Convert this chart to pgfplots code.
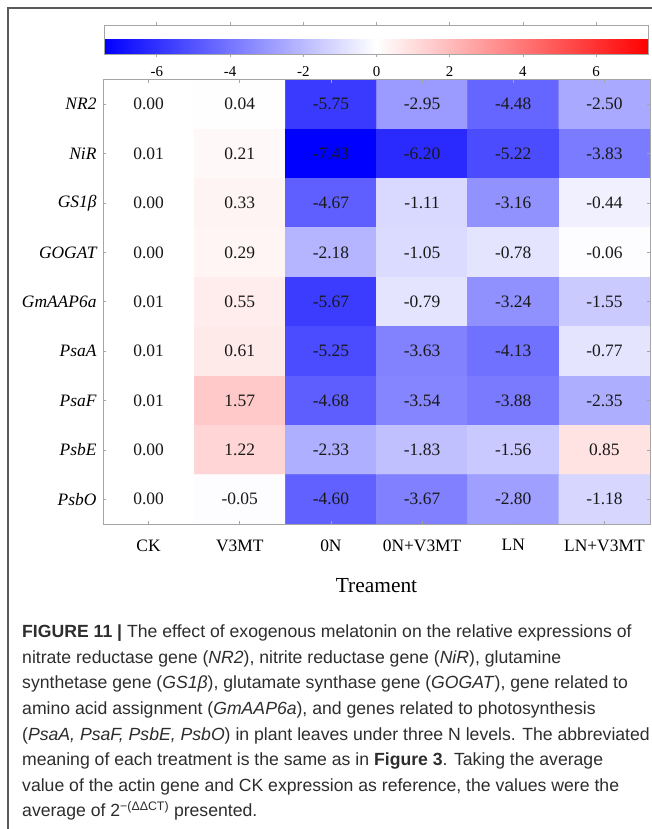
\documentclass[border=0pt]{standalone}
\usepackage{fontspec}
\setmainfont{Liberation Serif}
\newfontfamily\capfont{Liberation Sans}
\usepackage{pgfplots}
\pgfplotsset{compat=1.18}
\usepackage{pgfplotstable}

% relative expression, one row per gene (y), one column per treatment (x)
\pgfplotstableread{
x y c
0 0 0.00
1 0 0.04
2 0 -5.75
3 0 -2.95
4 0 -4.48
5 0 -2.50
0 1 0.01
1 1 0.21
2 1 -7.43
3 1 -6.20
4 1 -5.22
5 1 -3.83
0 2 0.00
1 2 0.33
2 2 -4.67
3 2 -1.11
4 2 -3.16
5 2 -0.44
0 3 0.00
1 3 0.29
2 3 -2.18
3 3 -1.05
4 3 -0.78
5 3 -0.06
0 4 0.01
1 4 0.55
2 4 -5.67
3 4 -0.79
4 4 -3.24
5 4 -1.55
0 5 0.01
1 5 0.61
2 5 -5.25
3 5 -3.63
4 5 -4.13
5 5 -0.77
0 6 0.01
1 6 1.57
2 6 -4.68
3 6 -3.54
4 6 -3.88
5 6 -2.35
0 7 0.00
1 7 1.22
2 7 -2.33
3 7 -1.83
4 7 -1.56
5 7 0.85
0 8 0.00
1 8 -0.05
2 8 -4.60
3 8 -3.67
4 8 -2.80
5 8 -1.18
}\exprtable

\definecolor{axgray}{RGB}{165,165,165}
\definecolor{framegray}{RGB}{90,90,90}
\definecolor{captext}{RGB}{45,45,45}

\begin{document}
\begin{tikzpicture}
% outer frame
\draw[framegray, line width=1.2bp] (8bp,-840bp) -- (8bp,-8bp) -- (660bp,-8bp);

\begin{axis}[
  at={(103bp,-524bp)}, anchor=south west,
  scale only axis, width=547bp, height=444.5bp,
  xmin=-0.5, xmax=5.5, ymin=-0.5, ymax=8.5,
  y dir=reverse,
  axis on top,
  axis line style={draw=axgray, line width=0.8bp},
  tick style={draw=axgray, line width=0.8bp},
  major tick length=3bp,
  tick align=inside,
  xtick={0,...,5},
  xticklabels={CK,V3MT,0N,0N+V3MT,LN,LN+V3MT},
  ytick={0,...,8},
  yticklabels={NR2,NiR,GS1β,GOGAT,GmAAP6a,PsaA,PsaF,PsbE,PsbO},
  xticklabel style={font=\fontsize{17.5}{20}\selectfont, yshift=-12bp},
  yticklabel style={font=\fontsize{17.5}{20}\selectfont\itshape, xshift=-3bp},
  xlabel={Treament},
  xlabel style={font=\fontsize{21.5}{24}\selectfont, at={(axis description cs:0.5,0)}, anchor=north, yshift=-51bp},
  colormap={bwr}{rgb255=(0,0,255) rgb255=(255,255,255) rgb255=(255,0,0)},
  point meta min=-7.43, point meta max=7.43,
  colorbar horizontal,
  colorbar style={
    at={(0.5,1.0574)}, anchor=south,
    scale only axis, width=544bp, height=29bp,
    axis line style={draw=axgray, line width=0.8bp},
    tick style={draw=axgray, line width=0.8bp},
    major tick length=3bp, tick align=outside,
    xtick={-6,-4,-2,0,2,4,6},
    xticklabels={-6,-4,-2,0,2,4,6},
    xticklabel style={font=\fontsize{15}{18}\selectfont, yshift=-6bp},
    ytick=\empty,
  },
]
\addplot[matrix plot*, mesh/cols=6, point meta=explicit]
  table[x=x, y=y, meta=c] {\exprtable};
\addplot[draw=none, mark=none, point meta=explicit,
  nodes near coords={\pgfmathprintnumber[fixed, fixed zerofill, precision=2, assume math mode=true]{\pgfplotspointmeta}},
  nodes near coords align={center},
  every node near coord/.append style={font=\fontsize{17.5}{20}\selectfont, text=black!90, anchor=center}]
  table[x=x, y=y, meta=c] {\exprtable};
\end{axis}

% caption
\node[anchor=north west, inner sep=0pt, align=left, text=captext,
      font=\capfont\fontsize{17.7}{25.6}\selectfont] at (22bp,-625bp)
{\textbf{FIGURE 11 |} The effect of exogenous melatonin on the relative expressions of\\
nitrate reductase gene (\textit{NR2}), nitrite reductase gene (\textit{NiR}), glutamine\\
synthetase gene (\textit{GS1β}), glutamate synthase gene (\textit{GOGAT}), gene related to\\
amino acid assignment (\textit{GmAAP6a}), and genes related to photosynthesis\\
(\textit{PsaA, PsaF, PsbE, PsbO}) in plant leaves under three N levels. The abbreviated\\
meaning of each treatment is the same as in \textbf{Figure 3}. Taking the average\\
value of the actin gene and CK expression as reference, the values were the\\
average of 2\textsuperscript{−(ΔΔCT)} presented.};

\pgfresetboundingbox
\useasboundingbox (0,0) rectangle (652bp,-829bp);
\end{tikzpicture}
\end{document}
